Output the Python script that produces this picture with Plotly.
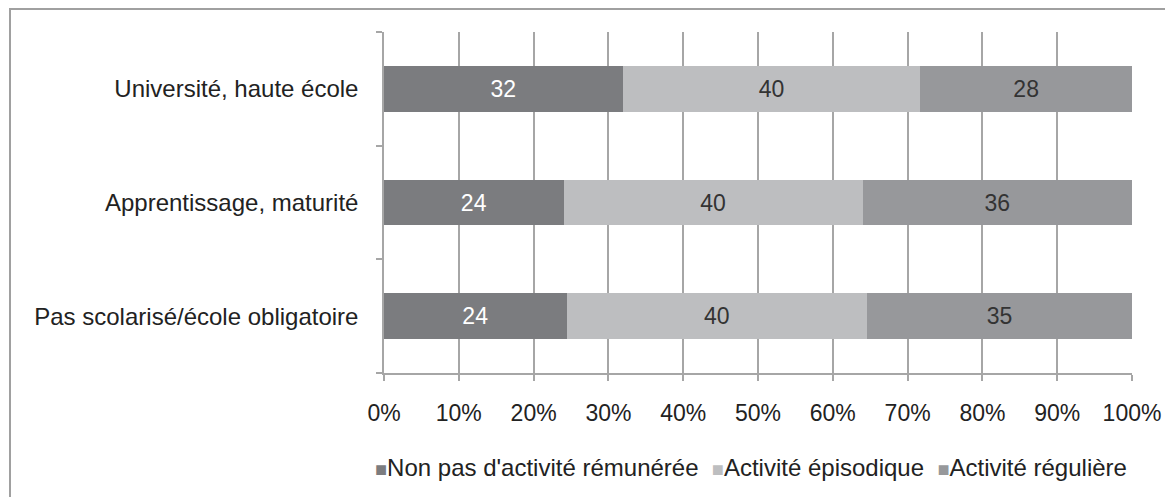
import plotly.graph_objects as go

categories = ["Pas scolarisé/école obligatoire", "Apprentissage, maturité", "Université, haute école"]
series_names = ["Non pas d'activité rémunérée", "Activité épisodique", "Activité régulière"]
non_actif = [24.4, 24.0, 31.9]
episodique = [40.2, 40.0, 39.8]
reguliere = [35.4, 36.0, 28.3]
labels_non = ["24", "24", "32"]
labels_epi = ["40", "40", "40"]
labels_reg = ["35", "36", "28"]
x_ticks = [0, 10, 20, 30, 40, 50, 60, 70, 80, 90, 100]
x_ticklabels = ["0%", "10%", "20%", "30%", "40%", "50%", "60%", "70%", "80%", "90%", "100%"]

colors = ["#7b7c7f", "#bdbec0", "#97989b"]
text_colors = ["#ffffff", "#333333", "#333333"]
FONT = "Liberation Sans, Arial, sans-serif"
FS = 23
FS_CAT = 24
FS_LEG = 24

fig = go.Figure()
for name, vals, labs, c, tc in zip(series_names, [non_actif, episodique, reguliere],
                                    [labels_non, labels_epi, labels_reg], colors, text_colors):
    fig.add_trace(go.Bar(
        y=categories, x=vals, name=name, orientation="h",
        marker=dict(color=c, line=dict(width=0)),
        text=labs, textposition="inside", insidetextanchor="middle",
        textfont=dict(color=tc, size=FS, family=FONT),
        hoverinfo="skip", showlegend=False,
    ))

# page has an 8px body margin; figure sized to fit the window
OFF = 8
W, H = 1173 - OFF, 497 - OFF
L, T = 384 - OFF, 32 - OFF
pw, ph = 750, 341
R, B = W - L - pw, H - T - ph

def px_to_paper_x(px):
    return (px - OFF - L) / pw

def px_to_paper_y(py):
    return (T + ph - (py - OFF)) / ph

legend_text = "&nbsp;&nbsp;".join(
    f"<span style='color:{c};font-size:20px'>■</span>{n}" for n, c in zip(series_names, colors)
)

fig.update_layout(
    width=W, height=H,
    barmode="stack", bargap=0.6,
    margin=dict(l=L, r=R, t=T, b=B, pad=0),
    paper_bgcolor="white", plot_bgcolor="white",
    font=dict(family=FONT, size=FS, color="#222222"),
    showlegend=False,
    xaxis=dict(range=[0, 100], tickvals=x_ticks, ticktext=x_ticklabels,
               showgrid=True, gridcolor="#a6a6a6", gridwidth=1.5,
               showline=True, linecolor="#a6a6a6", linewidth=1.5,
               ticks="outside", ticklen=6, tickcolor="#a6a6a6", tickwidth=1.5,
               ticklabelstandoff=13, zeroline=False,
               tickfont=dict(size=FS, family=FONT, color="#222222"), fixedrange=True),
    yaxis=dict(type="category", categoryorder="array", categoryarray=categories,
               showgrid=False, showline=True, linecolor="#a6a6a6", linewidth=1.5,
               ticks="outside", ticklen=6, tickcolor="#a6a6a6", tickwidth=1.5,
               tickson="boundaries", ticklabelstandoff=19,
               tickfont=dict(size=FS_CAT, family=FONT, color="#222222"), fixedrange=True),
    annotations=[dict(text=legend_text, xref="paper", yref="paper",
                      x=px_to_paper_x(752), y=px_to_paper_y(467),
                      xanchor="center", yanchor="middle", showarrow=False,
                      font=dict(size=FS_LEG, family=FONT, color="#222222"))],
    shapes=[dict(type="rect", xref="paper", yref="paper",
                 x0=px_to_paper_x(9), x1=px_to_paper_x(1190),
                 y0=px_to_paper_y(520), y1=px_to_paper_y(9),
                 line=dict(color="#a0a0a0", width=2), fillcolor="rgba(0,0,0,0)", layer="below")],
)

fig.write_html("out.html")
